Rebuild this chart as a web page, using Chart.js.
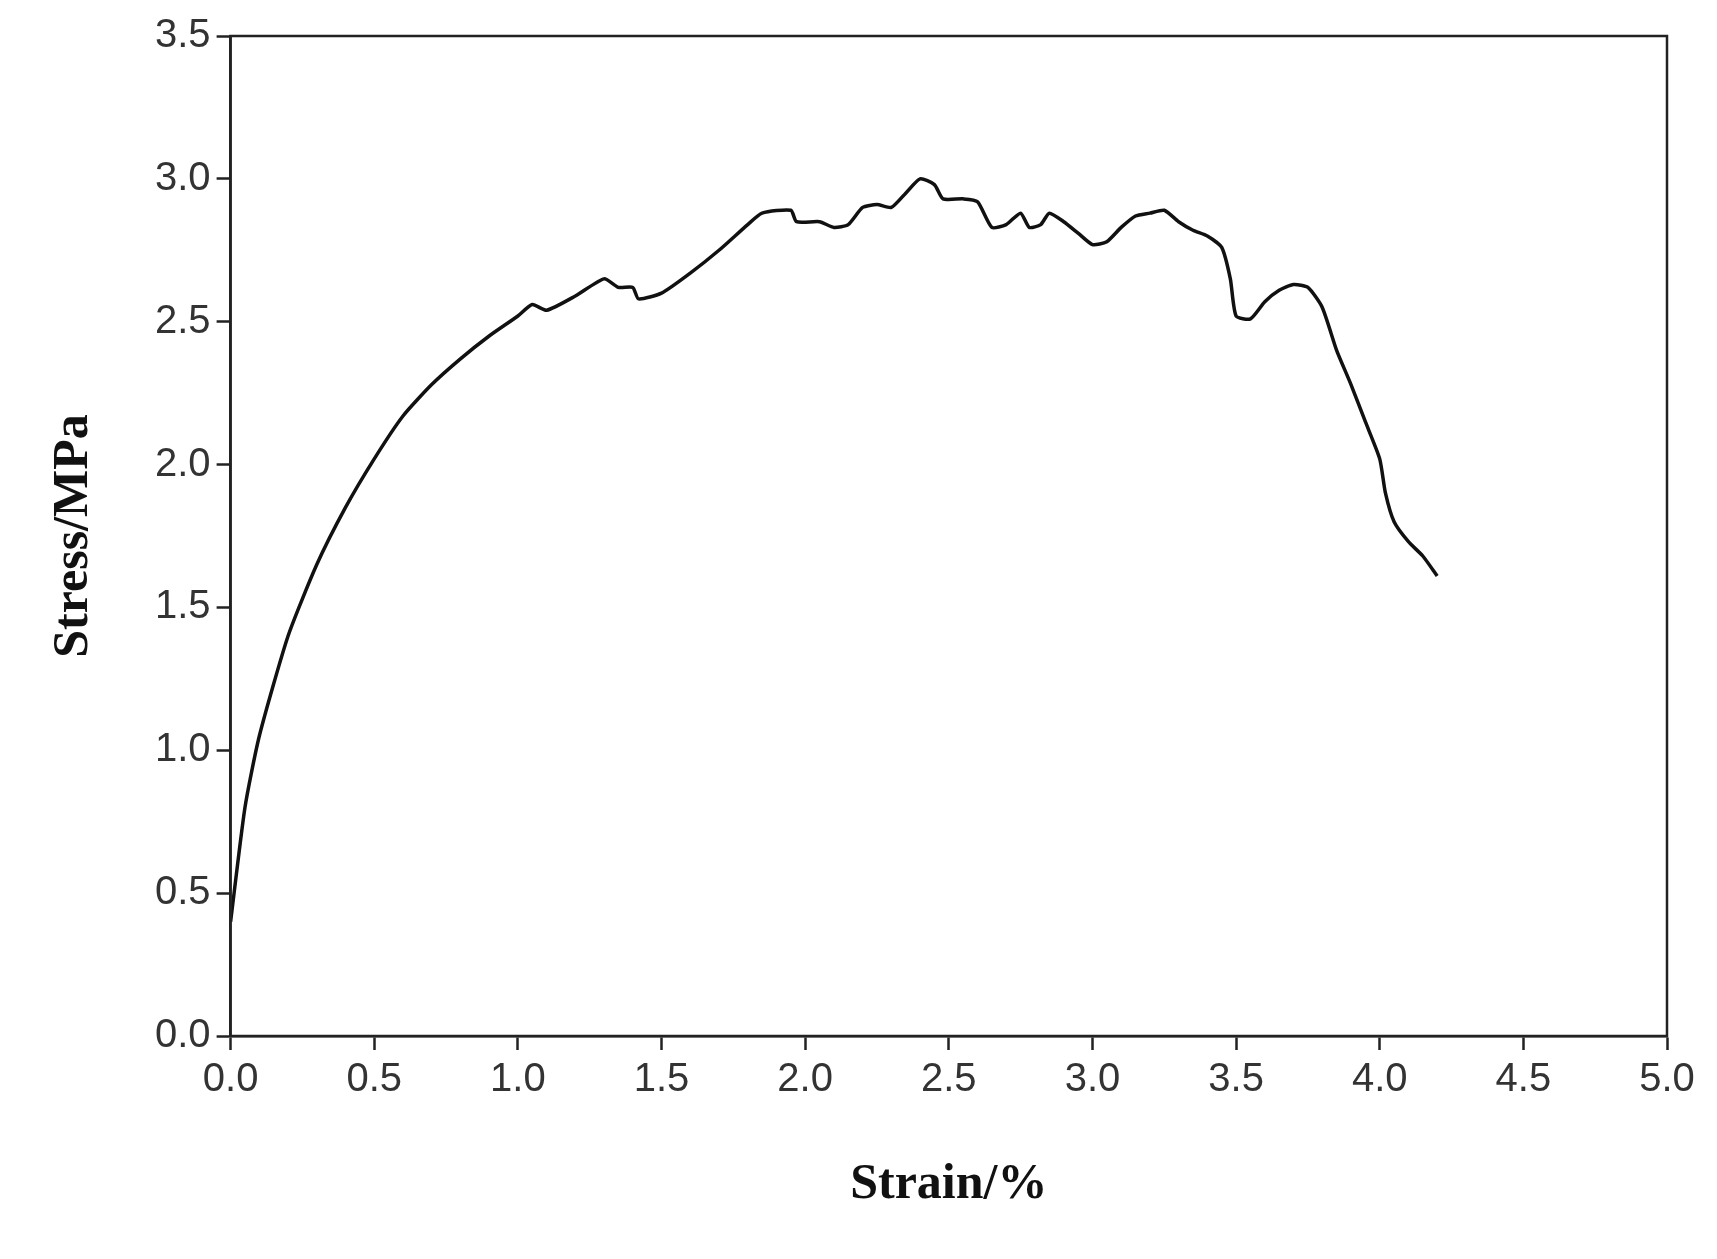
<!DOCTYPE html>
<html><head><meta charset="utf-8">
<script src="https://cdn.jsdelivr.net/npm/chart.js@4"></script>
<style>html,body{margin:0;padding:0;background:#fff}#w{width:1717px;height:1259px}</style>
</head><body><div id="w"><canvas id="c"></canvas></div>
<script>
const strain = [0,0.05,0.1,0.2,0.3,0.4,0.5,0.6,0.7,0.8,0.9,1.0,1.05,1.1,1.2,1.3,1.35,1.4,1.42,1.5,1.6,1.7,1.8,1.85,1.95,1.97,2.05,2.1,2.15,2.2,2.25,2.3,2.35,2.4,2.45,2.48,2.55,2.6,2.65,2.7,2.75,2.78,2.82,2.85,2.9,2.95,3.0,3.05,3.1,3.15,3.2,3.25,3.3,3.35,3.4,3.45,3.48,3.5,3.55,3.6,3.65,3.7,3.75,3.8,3.85,3.9,3.95,4.0,4.02,4.05,4.1,4.15,4.2];
const stress = [0.4,0.8,1.05,1.4,1.65,1.85,2.02,2.17,2.28,2.37,2.45,2.52,2.56,2.54,2.59,2.65,2.62,2.62,2.58,2.6,2.67,2.75,2.84,2.88,2.89,2.85,2.85,2.83,2.84,2.9,2.91,2.9,2.95,3.0,2.98,2.93,2.93,2.92,2.83,2.84,2.88,2.83,2.84,2.88,2.85,2.81,2.77,2.78,2.83,2.87,2.88,2.89,2.85,2.82,2.8,2.76,2.65,2.52,2.51,2.57,2.61,2.63,2.62,2.55,2.4,2.28,2.15,2.02,1.9,1.8,1.73,1.68,1.61];
const xTitle = 'Strain/%', yTitle = 'Stress/MPa';
const frame = {id:'frame',afterDraw(ch){const a=ch.chartArea,c=ch.ctx;c.save();c.strokeStyle='#222';c.lineWidth=2.5;c.strokeRect(a.left,a.top,a.right-a.left,a.bottom-a.top);c.restore();}};
const tickFont = {family:'Liberation Sans',size:40};
const titleFont = {family:'Liberation Serif',size:50,weight:'bold'};
new Chart(document.getElementById('c'),{
 type:'line',
 data:{datasets:[{data:strain.map((x,i)=>({x,y:stress[i]})),borderColor:'#111',borderWidth:3.5,pointRadius:0,tension:0.2,fill:false}]},
 options:{responsive:true,maintainAspectRatio:false,animation:false,
  layout:{padding:{top:36,right:50,left:40,bottom:40}},
  plugins:{legend:{display:false},tooltip:{enabled:false}},
  scales:{
   x:{type:'linear',min:0,max:5,ticks:{stepSize:0.5,callback:v=>v.toFixed(1),color:'#333',font:tickFont,padding:6},
      grid:{display:true,drawOnChartArea:false,drawTicks:true,tickLength:14,tickColor:'#222',tickWidth:2.5},border:{color:'#222',width:2.5},
      title:{display:true,text:xTitle,color:'#111',font:titleFont,padding:{top:45}}},
   y:{min:0,max:3.5,ticks:{stepSize:0.5,callback:v=>v.toFixed(1),color:'#333',font:tickFont,padding:6},
      grid:{display:true,drawOnChartArea:false,drawTicks:true,tickLength:14,tickColor:'#222',tickWidth:2.5},border:{color:'#222',width:2.5},
      title:{display:true,text:yTitle,color:'#111',font:titleFont,padding:{bottom:45}}}
  }},
 plugins:[frame]
});
</script></body></html>
